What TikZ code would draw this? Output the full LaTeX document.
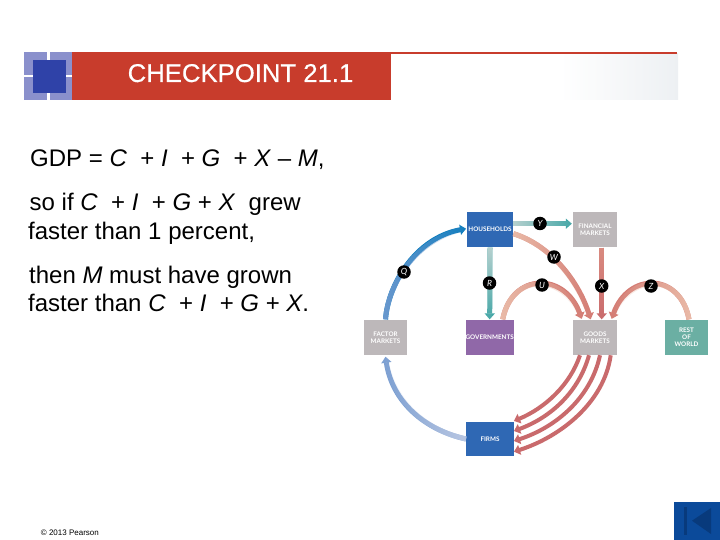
\documentclass[tikz,border=0pt]{standalone}
\usepackage{fontspec}
\setmainfont{Liberation Sans}
\newfontfamily\boxfont{Lato}
\newfontfamily\titlefont[FakeBold=0.5]{Liberation Sans}
\usetikzlibrary{arrows.meta,fadings,calc}
\definecolor{barred}{HTML}{C83C2C}
\definecolor{logolight}{HTML}{8A90CC}
\definecolor{logodark}{HTML}{2F42A8}
\definecolor{hhblue}{HTML}{2F68B4}
\definecolor{mktgrey}{HTML}{BDB8BA}
\definecolor{govpurple}{HTML}{9068A8}
\definecolor{rowgreen}{HTML}{6BAFA3}
\definecolor{navblue}{HTML}{0B4A9A}
\definecolor{navdark}{HTML}{083A7C}
\definecolor{redarrow}{HTML}{C96A6C}
\definecolor{salmonA}{HTML}{EABBA8}
\definecolor{salmonB}{HTML}{D47C74}
\definecolor{tealA}{HTML}{BAD2D0}
\definecolor{tealB}{HTML}{42A6A6}
\definecolor{blueA}{HTML}{6A98CE}
\definecolor{blueB}{HTML}{0F7DBE}
\definecolor{pblueA}{HTML}{BBC8E3}
\definecolor{pblueB}{HTML}{7DA0D2}
\definecolor{headgrey}{HTML}{EDF0F3}
\tikzset{
  x=1pt,y=-1pt,
  mbox/.style={minimum width=#1,minimum height=35.5pt,inner sep=0pt,text=white,align=center,
     font=\boxfont\bfseries\fontsize{6.3}{7}\selectfont},
  flowtip/.style={-{Triangle[width=10pt,length=6pt]}},
  badge/.style={circle,fill=black,text=white,minimum size=13.5pt,inner sep=0pt,
     font=\boxfont\itshape\fontsize{8.5}{8.5}\selectfont},
  body/.style={anchor=base west,inner sep=0pt,font=\fontsize{24}{28}\selectfont},
}
\newcommand{\flowpath}[5]{%
  \draw[#2,line width=#4,flowtip] #5;
  \draw[#1,line width=#4,path fading=#3] #5;
}
\newcommand{\xsp}{\hspace{0.278em}}
\begin{document}
\begin{tikzpicture}
\useasboundingbox (0,0) rectangle (720,540);
\fill[white] (0,0) rectangle (720,540);
% header
\fill[left color=white,right color=headgrey] (560,54) rectangle (678,100);
\fill[barred] (390,52) rectangle (677,54.2);
\fill[barred] (72,52) rectangle (390.7,100);
\fill[logolight] (24.3,52) rectangle (72,100);
\fill[white] (46.8,52) rectangle (49.8,100);
\fill[white] (24.3,75) rectangle (72,77.5);
\fill[logodark] (32.7,60) rectangle (66,92.7);
\node[anchor=base west,inner sep=0pt,text=white,font=\titlefont\fontsize{25.7}{30}\selectfont] (title) at (127.5,82) {CHECKPOINT 21.1};
% body text
\node[body] (l1) at (30,166.7) {GDP = \textit{C} \xsp+ \textit{I} \xsp+ \textit{G} \xsp+ \textit{X} -- \textit{M},};
\node[body] (l2) at (29.5,211) {so if \textit{C} \xsp+ \textit{I} \xsp+ \textit{G} + \textit{X} \xsp grew};
\node[body] (l3) at (28,240) {faster than 1 percent,};
\node[body] (l4) at (29,283) {then \textit{M} must have grown};
\node[body] (l5) at (28,311) {faster than \textit{C} \xsp+ \textit{I} \xsp+ \textit{G} + \textit{X}.};
\node[anchor=base west,inner sep=0pt,font=\fontsize{8}{9}\selectfont] (copy) at (40.7,535) {© 2013 Pearson};
% nav button
\fill[navblue] (674,502) rectangle (720,540);
\fill[navdark] (684,507) rectangle (686.5,535);
\fill[navdark] (692,520.7) -- (711,508) -- (711,534) -- cycle;
% boxes
\node[mbox=46.5pt,fill=hhblue] (hh) at (490,229.7) {HOUSEHOLDS};
\node[mbox=44pt,fill=mktgrey] (fin) at (595,229.7) {FINANCIAL\\MARKETS};
\node[mbox=43pt,fill=mktgrey] (fac) at (385.5,337.3) {FACTOR\\MARKETS};
\node[mbox=47pt,fill=govpurple] (gov) at (489.7,337.3) {GOVERNMENTS};
\node[mbox=44pt,fill=mktgrey] (goods) at (595,337.3) {GOODS\\MARKETS};
\node[mbox=43pt,fill=rowgreen] (row) at (686.5,337.3) {REST\\OF\\WORLD};
\node[mbox=47.5pt,fill=hhblue,minimum height=34.5pt] (firms) at (490,439) {FIRMS};
% flows
\flowpath{blueA}{blueB}{east}{5pt}{($(fac.north)+(0,0)$) .. controls (388,285) and (415,238) .. ($(hh.west)+(-0.5,-1)$)}
\flowpath{pblueA}{pblueB}{west}{5pt}{(firms.west) .. controls (425,430) and (392,402) .. ($(fac.south)+(0,1.5)$)}
\flowpath{tealA}{tealB}{east}{5pt}{($(hh.east)+(0,-6)$) -- ($(fin.west)+(-1,-6)$)}
\flowpath{tealA}{tealB}{south}{5pt}{(hh.south) -- (gov.north)}
\flowpath{salmonA}{salmonB}{east}{5pt}{($(hh.east)+(0,4)$) .. controls (550,245) and (578,280) .. ($(goods.north)+(-4.3,0)$)}
\flowpath{salmonA}{salmonB}{east}{5pt}{($(gov.north)+(13,0)$) .. controls (512,272) and (565,272) .. ($(goods.north)+(-13.3,-0.5)$)}
\flowpath{salmonB!75!salmonA}{redarrow}{south}{5pt}{($(fin.south)+(6.7,0)$) -- ($(goods.north)+(6.7,0)$)}
\flowpath{salmonA}{salmonB}{west}{5pt}{($(row.north)+(2.5,0)$) .. controls (680,272) and (628,272) .. ($(goods.north)+(16.7,-0.5)$)}
\draw[redarrow,line width=4pt,flowtip] ($(goods.south)+(-15,0)$) .. controls (570,385) and (545,408) .. ($(firms.east)+(0,-18)$);
\draw[redarrow,line width=4pt,flowtip] ($(goods.south)+(-6,0)$) .. controls (579,391) and (552,417) .. ($(firms.east)+(0,-8)$);
\draw[redarrow,line width=4pt,flowtip] ($(goods.south)+(5,0)$) .. controls (591,397) and (557,427) .. ($(firms.east)+(0,2)$);
\draw[redarrow,line width=4pt,flowtip] ($(goods.south)+(15.7,0)$) .. controls (604,403) and (560,437) .. ($(firms.east)+(0,12.7)$);
% badges
\node[badge] (bq) at (404,272) {Q};
\node[badge] (by) at (540,223.5) {Y};
\node[badge] (br) at (489.5,283) {R};
\node[badge] (bw) at (554,257) {W};
\node[badge] (bu) at (542,285) {U};
\node[badge] (bx) at (601.7,286) {X};
\node[badge] (bz) at (651,286) {Z};
\end{tikzpicture}
\end{document}
